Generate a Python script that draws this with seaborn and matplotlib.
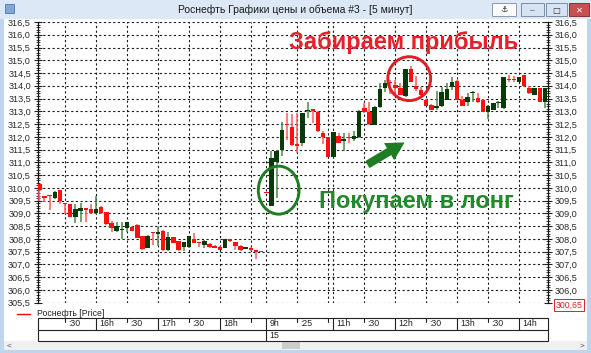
import numpy as np
import pandas as pd
import matplotlib
matplotlib.use("Agg")
import matplotlib.pyplot as plt
import seaborn as sns
from matplotlib.patches import Rectangle, Ellipse, FancyArrowPatch
from matplotlib.ticker import MultipleLocator, FixedLocator, FuncFormatter

# ---------------- data (5-minute candles) ----------------
opens = [310.15, 309.68, 309.70, 309.60, 309.90, 309.42, 309.36, 308.87, 309.10, 309.20,
         309.17, 309.00, 309.26, 309.04, 308.61, 308.30, 308.35, 308.43, 308.45, 308.56,
         308.10, 307.65, 308.27, 308.19, 308.32, 307.55, 308.06, 307.91, 307.67, 307.67,
         308.00, 307.87, 307.78, 307.81, 307.74, 307.70, 307.65, 308.00, 307.87, 307.74,
         307.61, 307.65, 307.55, 307.51,
         309.84, 309.30, 311.00, 311.50, 312.49, 312.37, 311.72, 311.76, 313.00, 313.08,
         312.99, 312.15, 311.98, 311.22, 312.02, 311.85, 311.98, 311.93, 311.98, 313.12,
         312.99, 312.47, 313.17, 313.92, 314.16, 314.03, 313.90, 313.60, 314.64, 314.00,
         313.85, 313.45, 313.25, 313.12, 313.19, 313.45, 313.96, 314.20, 313.45, 313.38,
         313.72, 313.51, 313.45, 312.99, 313.06, 313.32, 313.12, 314.26, 314.26, 314.16,
         314.42, 313.90, 313.64, 313.90, 313.38]
closes = [309.90, 309.62, 309.67, 309.84, 309.49, 309.38, 308.87, 309.17, 309.20, 309.13,
          309.00, 309.19, 309.01, 308.58, 308.43, 308.49, 308.38, 308.65, 308.32, 308.03,
          307.60, 308.13, 308.24, 308.28, 307.55, 308.06, 307.83, 307.55, 307.87, 308.10,
          307.84, 307.84, 307.93, 307.67, 307.65, 307.58, 307.99, 307.93, 307.74, 307.58,
          307.67, 307.55, 307.50, 307.49,
          309.80, 311.18, 311.46, 312.28, 312.45, 311.67, 311.66, 312.93, 313.05, 313.00,
          312.21, 311.98, 311.22, 312.18, 311.76, 311.92, 311.95, 312.02, 313.02, 312.97,
          312.52, 313.17, 313.88, 314.10, 314.10, 313.90, 313.64, 314.64, 314.16, 313.87,
          313.62, 313.21, 313.06, 313.20, 313.77, 313.88, 314.16, 313.45, 313.21, 313.58,
          313.76, 313.36, 312.99, 313.21, 313.32, 313.38, 314.33, 314.24, 314.24, 314.33,
          313.99, 313.70, 313.90, 313.38, 313.90]
highs = [310.17, 309.70, 309.72, 309.86, 309.92, 309.42, 309.36, 309.36, 309.40, 309.22,
         309.36, 309.69, 309.27, 309.05, 308.71, 308.65, 308.65, 308.67, 308.52, 308.57,
         308.11, 308.15, 308.28, 308.45, 308.33, 308.26, 308.07, 307.92, 307.88, 308.13,
         308.22, 307.88, 307.94, 307.82, 307.75, 307.71, 308.00, 308.01, 307.88, 307.75,
         307.68, 307.67, 307.56, 307.51,
         309.84, 311.46, 311.48, 312.60, 312.93, 312.90, 312.93, 312.95, 313.38, 313.09,
         313.00, 312.21, 311.99, 312.20, 312.15, 312.15, 312.15, 312.21, 313.04, 313.32,
         313.38, 313.20, 314.10, 314.22, 314.22, 314.22, 314.10, 314.66, 314.77, 314.38,
         313.96, 313.47, 313.27, 313.80, 313.96, 314.10, 314.35, 314.22, 313.60, 313.73,
         313.78, 313.70, 313.47, 313.23, 313.34, 313.40, 314.35, 314.42, 314.38, 314.35,
         314.44, 314.00, 313.92, 313.92, 313.92]
lows = [309.50, 309.43, 309.13, 309.58, 309.36, 308.97, 308.85, 308.61, 308.65, 308.65,
        308.98, 308.98, 308.99, 308.56, 308.26, 308.28, 308.00, 308.26, 308.30, 308.02,
        307.58, 307.63, 307.78, 307.74, 307.53, 307.53, 307.82, 307.53, 307.52, 307.66,
        307.83, 307.67, 307.65, 307.66, 307.64, 307.57, 307.64, 307.87, 307.58, 307.54,
        307.60, 307.54, 307.22, 307.49,
        309.80, 309.28, 309.62, 311.24, 311.89, 311.65, 311.37, 311.63, 312.73, 312.54,
        312.20, 311.70, 311.20, 311.20, 311.75, 311.46, 311.76, 311.82, 311.97, 312.95,
        312.48, 312.45, 313.13, 313.77, 313.68, 313.70, 313.62, 313.58, 314.14, 313.80,
        313.60, 313.19, 313.04, 313.05, 313.17, 313.43, 313.84, 313.43, 313.19, 313.19,
        313.38, 313.34, 312.97, 312.69, 313.04, 313.12, 313.10, 314.16, 314.16, 314.14,
        313.97, 313.68, 313.62, 313.36, 313.12]

y_ticks = [305.5, 306.0, 306.5, 307.0, 307.5, 308.0, 308.5, 309.0, 309.5, 310.0, 310.5, 311.0,
           311.5, 312.0, 312.5, 313.0, 313.5, 314.0, 314.5, 315.0, 315.5, 316.0, 316.5]
time_pos = [5, 11, 17, 23, 29, 35, 41, 44, 50, 56, 57, 63, 69, 75, 81, 87, 93]
time_labels = [":30", "16h", ":30", "17h", ":30", "18h", "", "9h", ":25", "", "11h",
               ":30", "12h", ":30", "13h", ":30", "14h"]
date_pos = [44]
date_labels = ["15"]
series_name = "Роснефть [Price]"
last_label = "300,65"
title = "Роснефть Графики цены и объема #3 - [5 минут]"
note_sell = "Забираем прибыль"
note_buy = "Покупаем в лонг"

df = pd.DataFrame({"open": opens, "close": closes, "high": highs, "low": lows})
df["x"] = np.arange(len(df))
df["up"] = df["close"] >= df["open"]

# ---------------- figure ----------------
sns.set_theme(style="white")
plt.rcParams["font.family"] = ["Liberation Sans", "DejaVu Sans"]

W, H = 591, 353
fig = plt.figure(figsize=(W / 100, H / 100), dpi=100)
fig.patch.set_facecolor("#BFD5EE")


def fx(px):
    return px / W


def fy(py):
    return 1 - py / H


def frect(x0, y0, x1, y1, z=-10, **kw):
    r = Rectangle((fx(x0), fy(y1)), fx(x1) - fx(x0), fy(y0) - fy(y1),
                  transform=fig.transFigure, figure=fig, zorder=z, **kw)
    fig.patches.append(r)


# window chrome
frect(0, 0, 591, 19, facecolor="#DCE8F5", edgecolor="none")
frect(4, 19, 587, 341, facecolor="white", edgecolor="none")
frect(4, 341, 587, 350, facecolor="#F0F0F0", edgecolor="none")
frect(282, 342, 300, 349, facecolor="#CDCDCD", edgecolor="none")
frect(5, 4, 14, 13, facecolor="#7FA8D8", edgecolor="#4A78B0", lw=0.6)
frect(492, 3, 516, 16, facecolor="#FAFAFA", edgecolor="#8A99AA", lw=0.7)
frect(521, 3, 544, 16, facecolor="#D5E3F3", edgecolor="#7C8FA6", lw=0.7)
frect(546, 3, 567, 16, facecolor="#D5E3F3", edgecolor="#7C8FA6", lw=0.7)
frect(569, 3, 589, 16, facecolor="#C75050", edgecolor="#8A3030", lw=0.7)
fig.text(fx(504), fy(10), "⚓", ha="center", va="center", fontsize=6, color="#333333",
         family=["DejaVu Sans"])
fig.text(fx(532.5), fy(10.5), "–", ha="center", va="center", fontsize=6, color="#333333")
fig.text(fx(556.5), fy(10), "□", ha="center", va="center", fontsize=6, color="#333333",
         family=["DejaVu Sans"])
fig.text(fx(579), fy(10), "✕", ha="center", va="center", fontsize=6, color="white",
         family=["DejaVu Sans"])
fig.text(fx(295), fy(10), title, ha="center", va="center", fontsize=7.5, color="#1A1A1A")
fig.text(fx(9), fy(346), "<", ha="center", va="center", fontsize=6, color="#555555")
fig.text(fx(582), fy(346), ">", ha="center", va="center", fontsize=6, color="#555555")

# ---------------- price panel ----------------
L, R, T, B = 38, 548, 22, 302.7
ax = fig.add_axes([fx(L), fy(B), fx(R) - fx(L), fy(T) - fy(B)])
ax.set_facecolor("white")
ax.set_xlim(-0.25, 98.6)
ax.set_ylim(305.5, 316.5)

red_body, red_wick = "#FF1010", "#FF5A5A"
grn_body, grn_wick = "#0A3A0A", "#4C874C"

wick_colors = [grn_wick if u else red_wick for u in df["up"]]
ax.vlines(df["x"], df["low"], df["high"], colors=wick_colors, lw=1.1, zorder=3)
bottoms = df[["open", "close"]].min(axis=1)
heights = (df["close"] - df["open"]).abs().clip(lower=0.035)
body_colors = [grn_body if u else red_body for u in df["up"]]
ax.bar(df["x"], heights, bottom=bottoms, width=0.86, color=body_colors,
       edgecolor="none", linewidth=0, zorder=4)

# grid
ax.yaxis.set_major_locator(FixedLocator(y_ticks))
ax.yaxis.set_minor_locator(MultipleLocator(0.1))
ax.yaxis.set_major_formatter(FuncFormatter(lambda v, p: f"{v:.1f}".replace(".", ",")))
ax.xaxis.set_major_locator(FixedLocator(time_pos))
ax.grid(True, which="major", axis="both", color="#1A1A1A", lw=0.8, ls=(0, (2, 2.2)), zorder=1)
ax.set_axisbelow(True)
ax.tick_params(axis="x", which="both", length=0, labelbottom=False)
ax.tick_params(axis="y", which="major", direction="inout", length=6, width=0.8,
               left=True, right=True, labelleft=True, labelright=True,
               labelsize=6.6, labelcolor="#2A2A2A", pad=2, color="#222222")
ax.tick_params(axis="y", which="minor", direction="inout", length=3, width=0.6,
               left=True, right=True, color="#222222")
for s in ["top", "bottom"]:
    ax.spines[s].set_visible(False)
for s in ["left", "right"]:
    ax.spines[s].set_color("#111111")
    ax.spines[s].set_linewidth(0.9)
fig.canvas.draw()
ax.yaxis.get_major_ticks()[0].label2.set_visible(False)

# annotations
ax.add_patch(Ellipse((71.7, 314.28), 8.3, 1.72, fill=False, ec="#E01E28", lw=2.1, zorder=6))
ax.add_patch(Ellipse((46.4, 309.91), 7.9, 1.88, fill=False, ec="#1E7D23", lw=2.1, zorder=6))
ax.text(fx(404), fy(42.5), note_sell, transform=fig.transFigure, ha="center", va="center",
        fontsize=17, fontweight="bold", color="#E8202A", zorder=10, clip_on=False)
ax.text(fx(416.5), fy(201.5), note_buy, transform=fig.transFigure, ha="center", va="center",
        fontsize=17, fontweight="bold", color="#218A2A", zorder=10, clip_on=False)
arr = FancyArrowPatch((fx(365), fy(166)), (fx(407), fy(141)), transform=fig.transFigure,
                      arrowstyle="simple,head_length=1.0,head_width=1.1,tail_width=0.45",
                      mutation_scale=13, color="#1E7D23", lw=0, zorder=10, clip_on=False)
ax.add_artist(arr)

fig.text(fx(569), fy(305), last_label, ha="center", va="center", fontsize=6.3,
         color="#E02020", zorder=10,
         bbox=dict(boxstyle="square,pad=0.15", fc="white", ec="#E02020", lw=0.7))

# legend row
fig.lines.append(plt.Line2D([fx(17), fx(30)], [fy(314), fy(314)], transform=fig.transFigure,
                            color="#FF0000", lw=1.0))
fig.text(fx(37), fy(314), series_name, ha="left", va="center", fontsize=6.3, color="#222222")

# ---------------- time axis table ----------------
axt = fig.add_axes([fx(L), fy(341), fx(R) - fx(L), fy(318) - fy(341)])
axt.set_xlim(ax.get_xlim())
axt.set_ylim(0, 2)
axt.axis("off")
axt.add_patch(Rectangle((-0.25, 0), 98.85, 2, fill=False, ec="#222222", lw=0.8,
                        clip_on=False))
axt.plot([-0.25, 98.6], [1, 1], color="#222222", lw=0.8, clip_on=False)
for p, lab in zip(time_pos, time_labels):
    if lab.endswith("h"):
        axt.plot([p, p], [1, 2], color="#222222", lw=0.8)
    else:
        axt.plot([p, p], [1.65, 2], color="#222222", lw=0.8)
    if lab:
        axt.text(p + 0.6, 1.5, lab, ha="left", va="center", fontsize=6.3, color="#222222")
for p, lab in zip(date_pos, date_labels):
    axt.plot([p, p], [0, 1], color="#222222", lw=0.8)
    axt.text(p + 0.6, 0.5, lab, ha="left", va="center", fontsize=6.3, color="#222222")

fig.savefig("out.png", dpi=100, facecolor=fig.get_facecolor())
